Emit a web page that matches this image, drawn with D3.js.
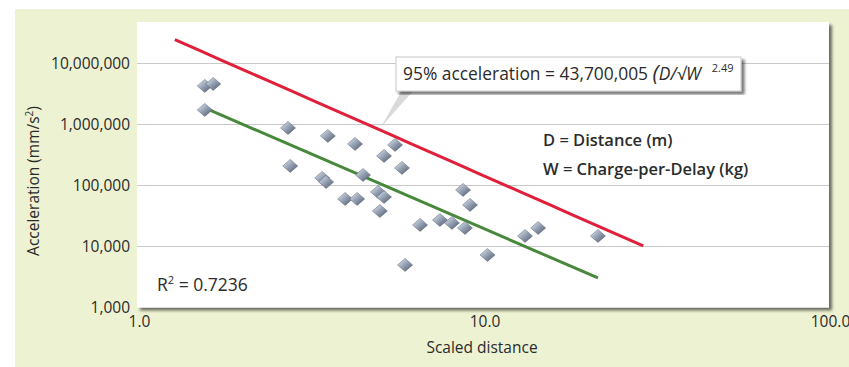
<!DOCTYPE html>
<html>
<head>
<meta charset="utf-8">
<script src="https://cdn.jsdelivr.net/npm/d3@7"></script>
<style>
  html, body { margin: 0; padding: 0; background: #ffffff; }
  svg { display: block; }
  text { font-family: "Open Sans", "Noto Sans", sans-serif; fill: #2b2b2b; }
</style>
</head>
<body>
<svg id="chart" width="849" height="367"></svg>
<script>
// Scaled distance (D/√W) and peak acceleration (mm/s²) for each recorded blast
const scaledDistance = [1.55, 1.64, 1.55, 2.70, 2.74, 3.39, 3.48, 3.52, 3.95, 4.22,
  4.28, 4.45, 4.92, 5.12, 4.98, 5.12, 5.51, 5.77, 5.89, 6.51,
  7.43, 8.05, 8.67, 9.08, 8.78, 10.2, 13.1, 14.3, 21.3];
const acceleration = [4220000, 4550000, 1710000, 867000, 207000, 132000, 113000, 641000, 59700, 474000,
  59700, 147000, 77600, 64300, 37900, 302000, 457000, 192000, 4960, 22400,
  27000, 24200, 83800, 47600, 20000, 7230, 14800, 20000, 14800];

// Axis ticks
const xTicks = [1, 10, 100];
const yTicks = [1000, 10000, 100000, 1000000, 10000000];

// 95% envelope: a = 43,700,005 · (D/√W)^-2.49
const envCoef = 43700005;
const envExp = -2.49;
const envRange = [1.27, 28.8];

// Best-fit line end points (R² = 0.7236)
const fitX = [1.55, 21.3];
const fitY = [1840000, 3040];
const rSquared = "0.7236";

const svg = d3.select("#chart");

// Panel background
svg.append("rect").attr("x", 15).attr("y", 9).attr("width", 834).attr("height", 358)
  .attr("fill", "#edf2d3");

const plot = { left: 137, right: 829, top: 22, bottom: 307.5 };

const x = d3.scaleLog().domain([1, 100]).range([139, 830]);
const y = d3.scaleLog().domain([1000, 10000000]).range([307.5, 63]);

const defs = svg.append("defs");
const sh = defs.append("filter").attr("id", "shadow")
  .attr("x", "-5%").attr("y", "-5%").attr("width", "110%").attr("height", "115%");
sh.append("feGaussianBlur").attr("in", "SourceAlpha").attr("stdDeviation", 1.5);
sh.append("feOffset").attr("dx", 3).attr("dy", 3).attr("result", "b");
sh.append("feComponentTransfer").append("feFuncA").attr("type", "linear").attr("slope", 0.55);
const mg = sh.append("feMerge");
mg.append("feMergeNode");
mg.append("feMergeNode").attr("in", "SourceGraphic");

const dg = defs.append("linearGradient").attr("id", "diamond")
  .attr("x1", "0%").attr("y1", "0%").attr("x2", "100%").attr("y2", "100%");
dg.append("stop").attr("offset", "0%").attr("stop-color", "#e8eef6");
dg.append("stop").attr("offset", "45%").attr("stop-color", "#9aa6b8");
dg.append("stop").attr("offset", "100%").attr("stop-color", "#4a5366");

// Plot area
svg.append("rect")
  .attr("x", plot.left).attr("y", plot.top)
  .attr("width", plot.right - plot.left).attr("height", plot.bottom - plot.top)
  .attr("fill", "#ffffff").attr("filter", "url(#shadow)");

// Horizontal gridlines
svg.append("g").selectAll("line").data(yTicks.slice(1)).join("line")
  .attr("x1", plot.left).attr("x2", plot.right)
  .attr("y1", d => Math.round(y(d)) + 0.5).attr("y2", d => Math.round(y(d)) + 0.5)
  .attr("stroke", "#c9c9c9").attr("stroke-width", 1);

// Axes (labels only)
const fmtY = d3.format(",");
const yAxis = d3.axisLeft(y).tickValues(yTicks).tickFormat(d => fmtY(d)).tickSize(0).tickPadding(0);
const gy = svg.append("g").attr("transform", "translate(130,0)").call(yAxis);
gy.select(".domain").remove();
gy.selectAll("text").style("font-size", "15.5px").attr("fill", "#2b2b2b").attr("dy", "0.35em");

const xAxis = d3.axisBottom(x).tickValues(xTicks).tickFormat(d3.format(".1f")).tickSize(0).tickPadding(0);
const gx = svg.append("g").attr("transform", "translate(0,316)").call(xAxis);
gx.select(".domain").remove();
gx.selectAll("text").style("font-size", "15.5px").attr("fill", "#2b2b2b").attr("dy", "0.71em");

// Axis titles
const yt = svg.append("text").attr("transform", "translate(39,181) rotate(-90)")
  .attr("text-anchor", "middle").style("font-size", "15.5px");
yt.append("tspan").text("Acceleration (mm/s");
yt.append("tspan").attr("dy", "-6").style("font-size", "10px").text("2");
yt.append("tspan").attr("dy", "6").text(")");

svg.append("text").attr("x", 482).attr("y", 353).attr("text-anchor", "middle")
  .style("font-size", "15.5px").text("Scaled distance");

// Callout pointer
svg.append("path")
  .attr("d", "M402,90 L414,90 L381,127 Z")
  .attr("fill", "#d6d6d6").attr("opacity", 0.9);

// Callout box
svg.append("rect").attr("x", 396).attr("y", 57).attr("width", 345).attr("height", 34)
  .attr("fill", "#ffffff").attr("stroke", "#c8c8c8").attr("stroke-width", 1)
  .attr("filter", "url(#shadow)");
const eq = svg.append("text").attr("x", 403).attr("y", 80).style("font-size", "17.4px");
eq.append("tspan").text("95% acceleration = 43,700,005 ");
eq.append("tspan").style("font-style", "italic").style("font-size", "22px").attr("dy", "1").text("(");
eq.append("tspan").style("font-style", "italic").attr("dy", "-1").text("D/√W");
eq.append("tspan").attr("dx", "11").attr("dy", "-8").style("font-size", "11px").text("2.49");

// Definitions
svg.append("text").attr("x", 543).attr("y", 146).style("font-size", "16.5px").style("font-weight", 600)
  .text("D = Distance (m)");
svg.append("text").attr("x", 543).attr("y", 175).style("font-size", "16.5px").style("font-weight", 600)
  .text("W = Charge-per-Delay (kg)");

// R² label
const r2 = svg.append("text").attr("x", 157).attr("y", 291).style("font-size", "17.5px").style("font-weight", 500);
r2.append("tspan").text("R");
r2.append("tspan").attr("dy", "-7").style("font-size", "11px").text("2");
r2.append("tspan").attr("dy", "7").text(" = " + rSquared);

// 95% envelope (red)
const line = d3.line().x(d => x(d[0])).y(d => y(d[1]));
const envPts = d3.range(0, 21).map(i => {
  const lx = Math.exp(Math.log(envRange[0]) + i / 20 * (Math.log(envRange[1]) - Math.log(envRange[0])));
  return [lx, envCoef * Math.pow(lx, envExp)];
});
svg.append("path").datum(envPts).attr("d", line)
  .attr("fill", "none").attr("stroke", "#e0203a").attr("stroke-width", 3);

// Best fit (green)
svg.append("path").datum(fitX.map((d, i) => [d, fitY[i]])).attr("d", line)
  .attr("fill", "none").attr("stroke", "#47893b").attr("stroke-width", 3);

// Data points
const data = scaledDistance.map((d, i) => ({ x: d, y: acceleration[i] }));
svg.append("g").selectAll("path").data(data).join("path")
  .attr("transform", d => `translate(${x(d.x)},${y(d.y)})`)
  .attr("d", "M0,-6.5 L7.5,0 L0,6.5 L-7.5,0 Z")
  .attr("fill", "url(#diamond)")
  .attr("stroke", "#5b6577").attr("stroke-width", 0.5);
</script>
</body>
</html>
